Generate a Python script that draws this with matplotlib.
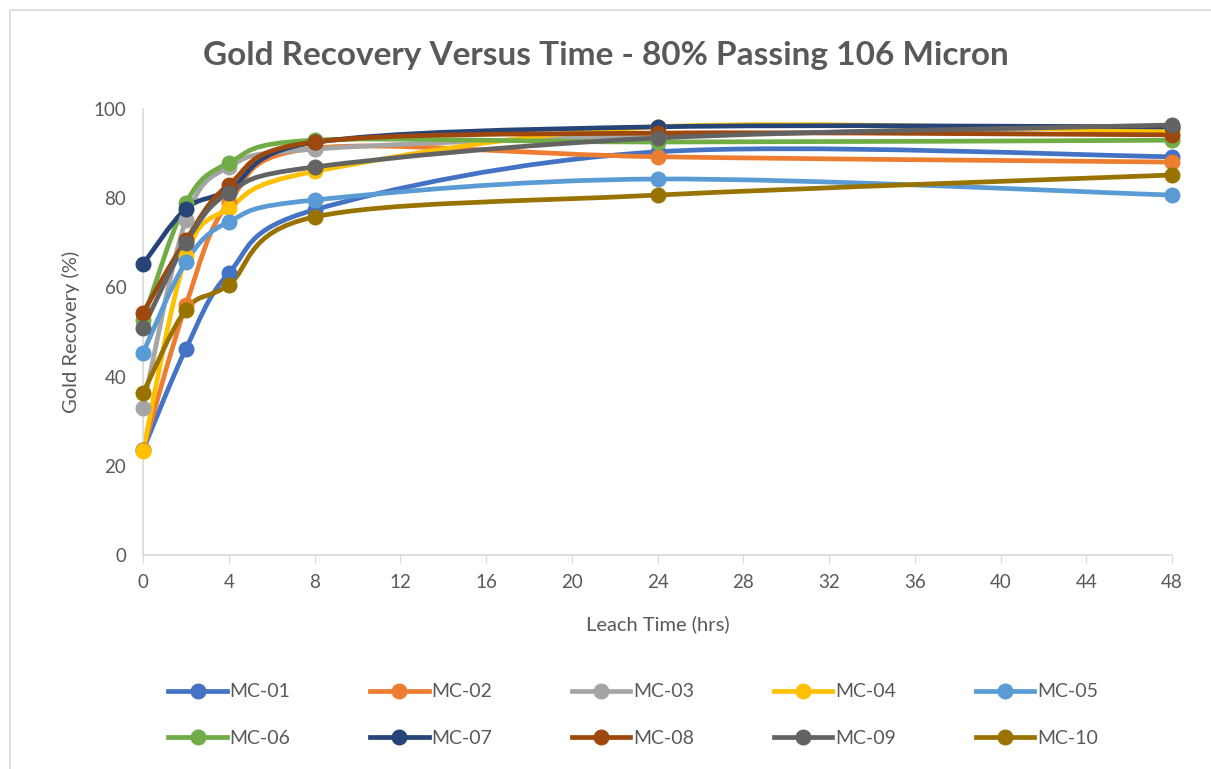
import matplotlib.pyplot as plt
from matplotlib.path import Path
from matplotlib.patches import PathPatch, Rectangle
from matplotlib.lines import Line2D

plt.rcParams['font.family'] = ['Lato', 'DejaVu Sans']

# Leach time (hrs)
tiempos = [0, 2, 4, 8, 24, 48]

# Gold recovery (%) per sample
mc01 = [23.5, 46.2, 63.2, 77.4, 90.4, 89.3]
mc02 = [23.5, 56.0, 79.0, 91.2, 89.3, 88.1]
mc03 = [33.0, 75.1, 87.0, 91.0, 94.0, 96.0]
mc04 = [23.3, 67.0, 77.8, 86.0, 96.0, 95.0]
mc05 = [45.3, 65.7, 74.7, 79.6, 84.3, 80.7]
mc06 = [52.7, 78.9, 87.9, 93.0, 92.6, 93.0]
mc07 = [65.2, 77.6, 81.8, 92.5, 96.0, 96.0]
mc08 = [54.3, 70.6, 83.0, 92.6, 94.6, 94.2]
mc09 = [50.9, 70.0, 81.2, 87.0, 93.5, 96.4]
mc10 = [36.3, 55.0, 60.6, 75.8, 80.7, 85.2]

nombres = ['MC-01', 'MC-02', 'MC-03', 'MC-04', 'MC-05',
           'MC-06', 'MC-07', 'MC-08', 'MC-09', 'MC-10']
series = [mc01, mc02, mc03, mc04, mc05, mc06, mc07, mc08, mc09, mc10]
colores = ['#4472C4', '#ED7D31', '#A5A5A5', '#FFC000', '#5B9BD5',
           '#70AD47', '#264478', '#9E480E', '#636363', '#997300']


# Curva suavizada tipo Excel (Bezier cubica por los puntos)
def camino_suave(xs, ys, t=1/6):
    verts = [(xs[0], ys[0])]
    codes = [Path.MOVETO]
    n = len(xs)
    for i in range(n - 1):
        x0, y0 = xs[max(i - 1, 0)], ys[max(i - 1, 0)]
        x1, y1 = xs[i], ys[i]
        x2, y2 = xs[i + 1], ys[i + 1]
        x3, y3 = xs[min(i + 2, n - 1)], ys[min(i + 2, n - 1)]
        c1 = (x1 + (x2 - x0) * t, y1 + (y2 - y0) * t)
        c2 = (x2 - (x3 - x1) * t, y2 - (y3 - y1) * t)
        verts += [c1, c2, (x2, y2)]
        codes += [Path.CURVE4, Path.CURVE4, Path.CURVE4]
    return Path(verts, codes)


fig = plt.figure(figsize=(12.11, 7.69), dpi=100)
fig.patches.append(Rectangle((10 / 1211, -0.01), 1.02, 1 - 10 / 769 + 0.01,
                             transform=fig.transFigure, fill=False,
                             edgecolor='#D9D9D9', linewidth=1.2))
ax = fig.add_axes([143 / 1211, 1 - 555 / 769, (1172 - 143) / 1211, (555 - 109) / 769])

for nombre, datos, color in zip(nombres, series, colores):
    ax.add_patch(PathPatch(camino_suave(tiempos, datos), fill=False,
                           edgecolor=color, linewidth=3.4, capstyle='round',
                           joinstyle='round', clip_on=False))
    ax.plot(tiempos, datos, linestyle='none', marker='o', markersize=10.5,
            color=color, clip_on=False, zorder=3)

ax.set_xlim(0, 48)
ax.set_ylim(0, 100)
ax.set_xticks(range(0, 49, 4))
ax.set_yticks(range(0, 101, 20))
for lado in ['top', 'right']:
    ax.spines[lado].set_visible(False)
ax.spines['left'].set_color('#D9D9D9')
ax.spines['bottom'].set_color('#D9D9D9')
ax.spines['left'].set_linewidth(1.2)
ax.spines['bottom'].set_linewidth(1.2)
ax.tick_params(axis='y', length=0, pad=12, labelsize=13.5, labelcolor='#595959')
ax.tick_params(axis='x', length=6, color='#D9D9D9', pad=8, labelsize=13.5,
               labelcolor='#595959')
ax.set_xlabel('Leach Time (hrs)', fontsize=14.5, color='#595959', labelpad=17)
ax.set_ylabel('Gold Recovery (%)', fontsize=14.5, color='#595959', labelpad=10)

fig.text(0.5, 1 - 55 / 769, 'Gold Recovery Versus Time - 80% Passing 106 Micron',
         ha='center', va='center', fontsize=24, fontweight='bold', color='#595959')

# El orden de la leyenda es por filas (matplotlib llena por columnas)
orden = [0, 5, 1, 6, 2, 7, 3, 8, 4, 9]
handles = [Line2D([], [], color=colores[i], linewidth=3.4, marker='o',
                  markersize=10.5) for i in orden]
etiquetas = [nombres[i] for i in orden]
fig.legend(handles, etiquetas, loc='center', bbox_to_anchor=(0.523, 1 - 715 / 769),
           ncol=5, frameon=False, fontsize=14, labelcolor='#595959',
           handlelength=3.0, handletextpad=0.15, columnspacing=4.1,
           labelspacing=1.5)

fig.savefig('out.png', dpi=100)
